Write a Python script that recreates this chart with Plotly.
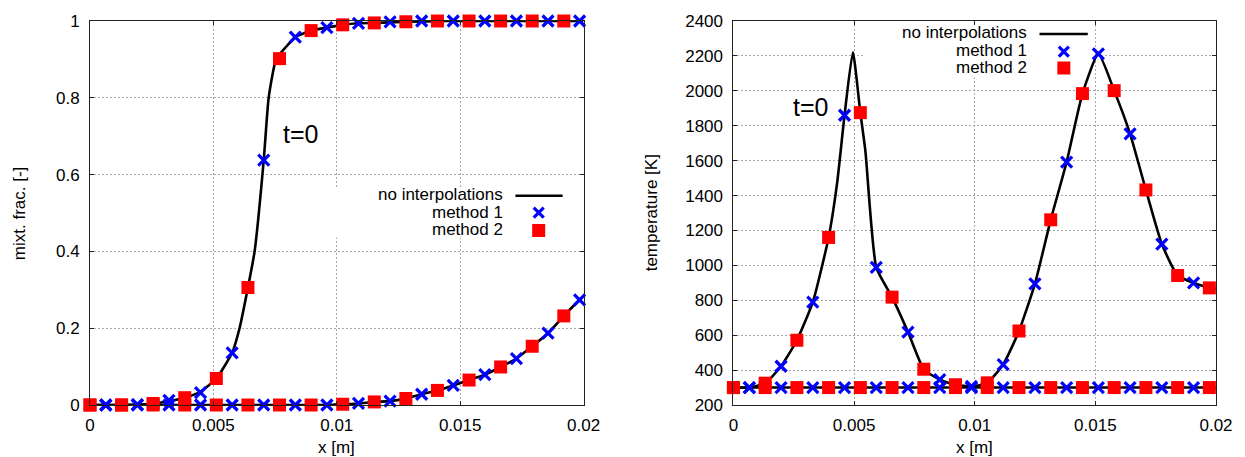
import plotly.graph_objects as go

# ---------------- data: left panel (mixture fraction) ----------------
mf_x_m2 = [0.0, 0.00128, 0.00256, 0.00384, 0.00512, 0.0064, 0.00768, 0.00896,
           0.01024, 0.01152, 0.0128, 0.01408, 0.01536, 0.01664, 0.01792, 0.0192]
mf_x_m1 = [0.00064, 0.00192, 0.0032, 0.00448, 0.00576, 0.00704, 0.00832, 0.0096,
           0.01088, 0.01216, 0.01344, 0.01472, 0.016, 0.01728, 0.01856, 0.01984]
mf_a_m1 = [0.0, 0.001, 0.012, 0.032, 0.136, 0.638, 0.958, 0.983,
           0.994, 0.998, 1.0, 1.0, 1.0, 1.0, 1.0, 1.0]
mf_a_m2 = [0.0, 0.0, 0.004, 0.019, 0.069, 0.306, 0.902, 0.975,
           0.990, 0.995, 0.998, 1.0, 1.0, 1.0, 1.0, 1.0]
mf_b_m1 = [0.0, 0.0, 0.0, 0.0, 0.0, 0.0, 0.0, 0.0,
           0.004, 0.010, 0.028, 0.051, 0.079, 0.121, 0.187, 0.274]
mf_b_m2 = [0.0, 0.0, 0.0, 0.0, 0.0, 0.0, 0.0, 0.0,
           0.002, 0.008, 0.017, 0.038, 0.065, 0.099, 0.153, 0.232]
mf_line_a_x = [0.0, 0.00128, 0.00192, 0.00256, 0.0032, 0.00384, 0.00448, 0.00512,
               0.00576, 0.00606, 0.0064, 0.00667, 0.00704, 0.00724, 0.00754, 0.00795,
               0.00832, 0.00896, 0.0096, 0.01024, 0.01088, 0.01152, 0.0128, 0.0144,
               0.016, 0.018, 0.02]
mf_line_a = [0.0, 0.0, 0.001, 0.004, 0.010, 0.019, 0.035, 0.069,
             0.136, 0.2, 0.306, 0.4, 0.638, 0.8, 0.9, 0.933,
             0.958, 0.975, 0.983, 0.990, 0.994, 0.995, 0.998, 1.0,
             1.0, 1.0, 1.0]
mf_line_b_x = [0.0, 0.00896, 0.0096, 0.01024, 0.01088, 0.01152, 0.01216, 0.0128,
               0.01344, 0.01408, 0.01472, 0.01536, 0.016, 0.01664, 0.01728, 0.01792,
               0.01856, 0.0192, 0.01984, 0.02]
mf_line_b = [0.0, 0.0, 0.0, 0.002, 0.004, 0.008, 0.010, 0.017,
             0.028, 0.038, 0.051, 0.065, 0.079, 0.099, 0.121, 0.153,
             0.187, 0.232, 0.274, 0.284]

# ---------------- data: right panel (temperature) ----------------
T_x_m2 = [0.0, 0.001315, 0.00263, 0.003945, 0.00526, 0.006575, 0.00789, 0.009205,
          0.01052, 0.011835, 0.01315, 0.014465, 0.01578, 0.017095, 0.01841, 0.019725]
T_x_m1 = [0.00066, 0.001975, 0.00329, 0.004605, 0.00592, 0.007235, 0.00855, 0.009865,
          0.01118, 0.012495, 0.01381, 0.015125, 0.01644, 0.017755, 0.01907]
T_a_m2 = [300, 325, 571, 1160, 1875, 818, 405, 316, 327, 624, 1261, 1984, 2001, 1432, 942, 871]
T_a_m1 = [300, 422, 789, 1860, 989, 618, 345, 306, 432, 894, 1592, 2212, 1753, 1122, 900]
T_b_m2 = [300, 300, 300, 300, 300, 300, 300, 300, 300, 300, 300, 300, 300, 300, 300, 300]
T_b_m1 = [300, 300, 300, 300, 300, 300, 300, 300, 300, 300, 300, 300, 300, 300, 300]
T_line_a_x = [0.0, 0.00066, 0.001315, 0.001975, 0.00263, 0.00329, 0.003945, 0.0043,
              0.004605, 0.00495, 0.00526, 0.00547, 0.00592, 0.006575, 0.007235, 0.00789,
              0.00855, 0.009205, 0.009865, 0.01052, 0.01118, 0.011835, 0.012495, 0.01315,
              0.01381, 0.014465, 0.015125, 0.01578, 0.01644, 0.017095, 0.017755, 0.01841,
              0.01907, 0.019725, 0.02]
T_line_a = [300, 300, 325, 422, 571, 789, 1160, 1474,
            1860, 2221, 1875, 1655, 989, 818, 618, 405,
            345, 316, 306, 327, 432, 624, 894, 1261,
            1592, 1984, 2212, 2001, 1753, 1432, 1122, 942,
            900, 871, 866]
T_line_b_x = [0.0, 0.02]
T_line_b = [300, 300]

x_ticks = [0, 0.005, 0.01, 0.015, 0.02]
x_ticktext = ["0", "0.005", "0.01", "0.015", "0.02"]
mf_ticks = [0, 0.2, 0.4, 0.6, 0.8, 1.0]
mf_ticktext = ["0", "0.2", "0.4", "0.6", "0.8", "1"]
T_ticks = [200, 400, 600, 800, 1000, 1200, 1400, 1600, 1800, 2000, 2200, 2400]
legend_labels = ["no interpolations", "method 1", "method 2"]

FONT = "Liberation Sans, Arial, sans-serif"
BLUE = "#0000ff"
RED = "#ff0000"

fig = go.Figure()


def add_panel(xa, ya, lines, m1, m2):
    for lx, ly in lines:
        fig.add_trace(go.Scatter(x=lx, y=ly, mode="lines", xaxis=xa, yaxis=ya,
                                 line=dict(color="black", width=2.6, shape="spline", smoothing=0.5),
                                 cliponaxis=False, showlegend=False, hoverinfo="skip"))
    for mx, my in m1:
        fig.add_trace(go.Scatter(x=mx, y=my, mode="markers", xaxis=xa, yaxis=ya,
                                 marker=dict(symbol="x-thin", size=11,
                                             line=dict(color=BLUE, width=3.2)),
                                 cliponaxis=False, showlegend=False))
    for mx, my in m2:
        fig.add_trace(go.Scatter(x=mx, y=my, mode="markers", xaxis=xa, yaxis=ya,
                                 marker=dict(symbol="square", size=13, color=RED,
                                             line=dict(width=0)),
                                 cliponaxis=False, showlegend=False))


add_panel("x", "y",
          [(mf_line_a_x, mf_line_a), (mf_line_b_x, mf_line_b)],
          [(mf_x_m1, mf_a_m1), (mf_x_m1, mf_b_m1)],
          [(mf_x_m2, mf_a_m2), (mf_x_m2, mf_b_m2)])
add_panel("x2", "y2",
          [(T_line_a_x, T_line_a), (T_line_b_x, T_line_b)],
          [(T_x_m1, T_a_m1), (T_x_m1, T_b_m1)],
          [(T_x_m2, T_a_m2), (T_x_m2, T_b_m2)])

axis_common = dict(showline=True, linecolor="#222222", linewidth=1, mirror="ticks",
                   ticks="inside", ticklen=4, tickcolor="#222222", tickwidth=1,
                   showgrid=True, gridcolor="#a8a8a8", gridwidth=1, griddash="2px,2px",
                   zeroline=False, tickfont=dict(family=FONT, size=17, color="black"))

fig.update_layout(
    width=1245, height=457,
    margin=dict(l=90, r=25.7, t=19.3, b=51.5),
    paper_bgcolor="white", plot_bgcolor="white",
    xaxis=dict(domain=[0, 0.43832], range=[0, 0.02], anchor="y",
               tickvals=x_ticks, ticktext=x_ticktext, ticklabelstandoff=5, **axis_common),
    yaxis=dict(domain=[0, 1], range=[0, 1], anchor="x",
               tickvals=mf_ticks, ticktext=mf_ticktext, ticklabelstandoff=6, **axis_common),
    xaxis2=dict(domain=[0.57142, 1], range=[0, 0.02], anchor="y2",
                tickvals=x_ticks, ticktext=x_ticktext, ticklabelstandoff=5, **axis_common),
    yaxis2=dict(domain=[0, 1], range=[200, 2400], anchor="x2",
                tickvals=T_ticks, ticktext=[str(v) for v in T_ticks], ticklabelstandoff=6,
                **axis_common),
    showlegend=False,
)

ann = []
shapes = []


def title(text, x, y, angle=0):
    ann.append(dict(text=text, x=x, y=y, xref="paper", yref="paper", showarrow=False,
                    textangle=angle, xanchor="center", yanchor="middle",
                    font=dict(family=FONT, size=17, color="black")))


title("x [m]", 0.2191, -0.110)
title("x [m]", 0.7857, -0.110)
title("mixt. frac. [-]", -0.0629, 0.5, -90)
title("temperature [K]", 0.4985, 0.5, -90)

ann.append(dict(text="t=0", x=0.00853, y=0.706, xref="x", yref="y", showarrow=False,
                font=dict(family=FONT, size=25, color="black")))
ann.append(dict(text="t=0", x=0.00319, y=1906, xref="x2", yref="y2", showarrow=False,
                font=dict(family=FONT, size=25, color="black")))


def legend(xs, ys, yr0, yr1, text_right, rows_y, line_x0, line_x1, line_y,
           mark_x, mark_y1, mark_y2, box):
    # positions given as fractions of the panel; converted to axis units
    def fx(f):
        return f * 0.02

    def fy(f):
        return yr0 + f * (yr1 - yr0)

    shapes.append(dict(type="rect", xref=xs, yref=ys, x0=fx(box[0]), x1=fx(box[1]),
                       y0=fy(box[2]), y1=fy(box[3]),
                       fillcolor="white", line=dict(width=0), layer="between"))
    for lab, ry in zip(legend_labels, rows_y):
        ann.append(dict(text=lab, x=fx(text_right), y=fy(ry), xref=xs, yref=ys, showarrow=False,
                        xanchor="right", yanchor="middle",
                        font=dict(family=FONT, size=17, color="black")))
    shapes.append(dict(type="line", xref=xs, yref=ys, x0=fx(line_x0), x1=fx(line_x1),
                       y0=fy(line_y), y1=fy(line_y), line=dict(color="black", width=2.6)))
    for (a, b) in [(-5, 5), (5, -5)]:
        shapes.append(dict(type="line", xref=xs, yref=ys, xsizemode="pixel", ysizemode="pixel",
                           xanchor=fx(mark_x), yanchor=fy(mark_y1), x0=-5, x1=5, y0=a, y1=b,
                           line=dict(color=BLUE, width=3.2)))
    shapes.append(dict(type="rect", xref=xs, yref=ys, xsizemode="pixel", ysizemode="pixel",
                       xanchor=fx(mark_x), yanchor=fy(mark_y2), x0=-6.5, x1=6.5, y0=-6.5, y1=6.5,
                       fillcolor=RED, line=dict(width=0)))


legend("x", "y", 0, 1, 0.8418, [0.5476, 0.5003, 0.4562], 0.862, 0.9576, 0.545,
       0.9091, 0.501, 0.4544, (0.4646, 1.0, 0.4363, 0.5666))
legend("x2", "y2", 200, 2400, 0.6124, [0.9705, 0.9223, 0.8791], 0.6343, 0.7343, 0.9663,
       0.6847, 0.9205, 0.8773, (0.268, 0.7494, 0.8532, 1.0))

fig.update_layout(annotations=ann, shapes=shapes)
fig.write_html("out.html", config={"displayModeBar": False},
               post_script="document.body.style.margin='0px';")
